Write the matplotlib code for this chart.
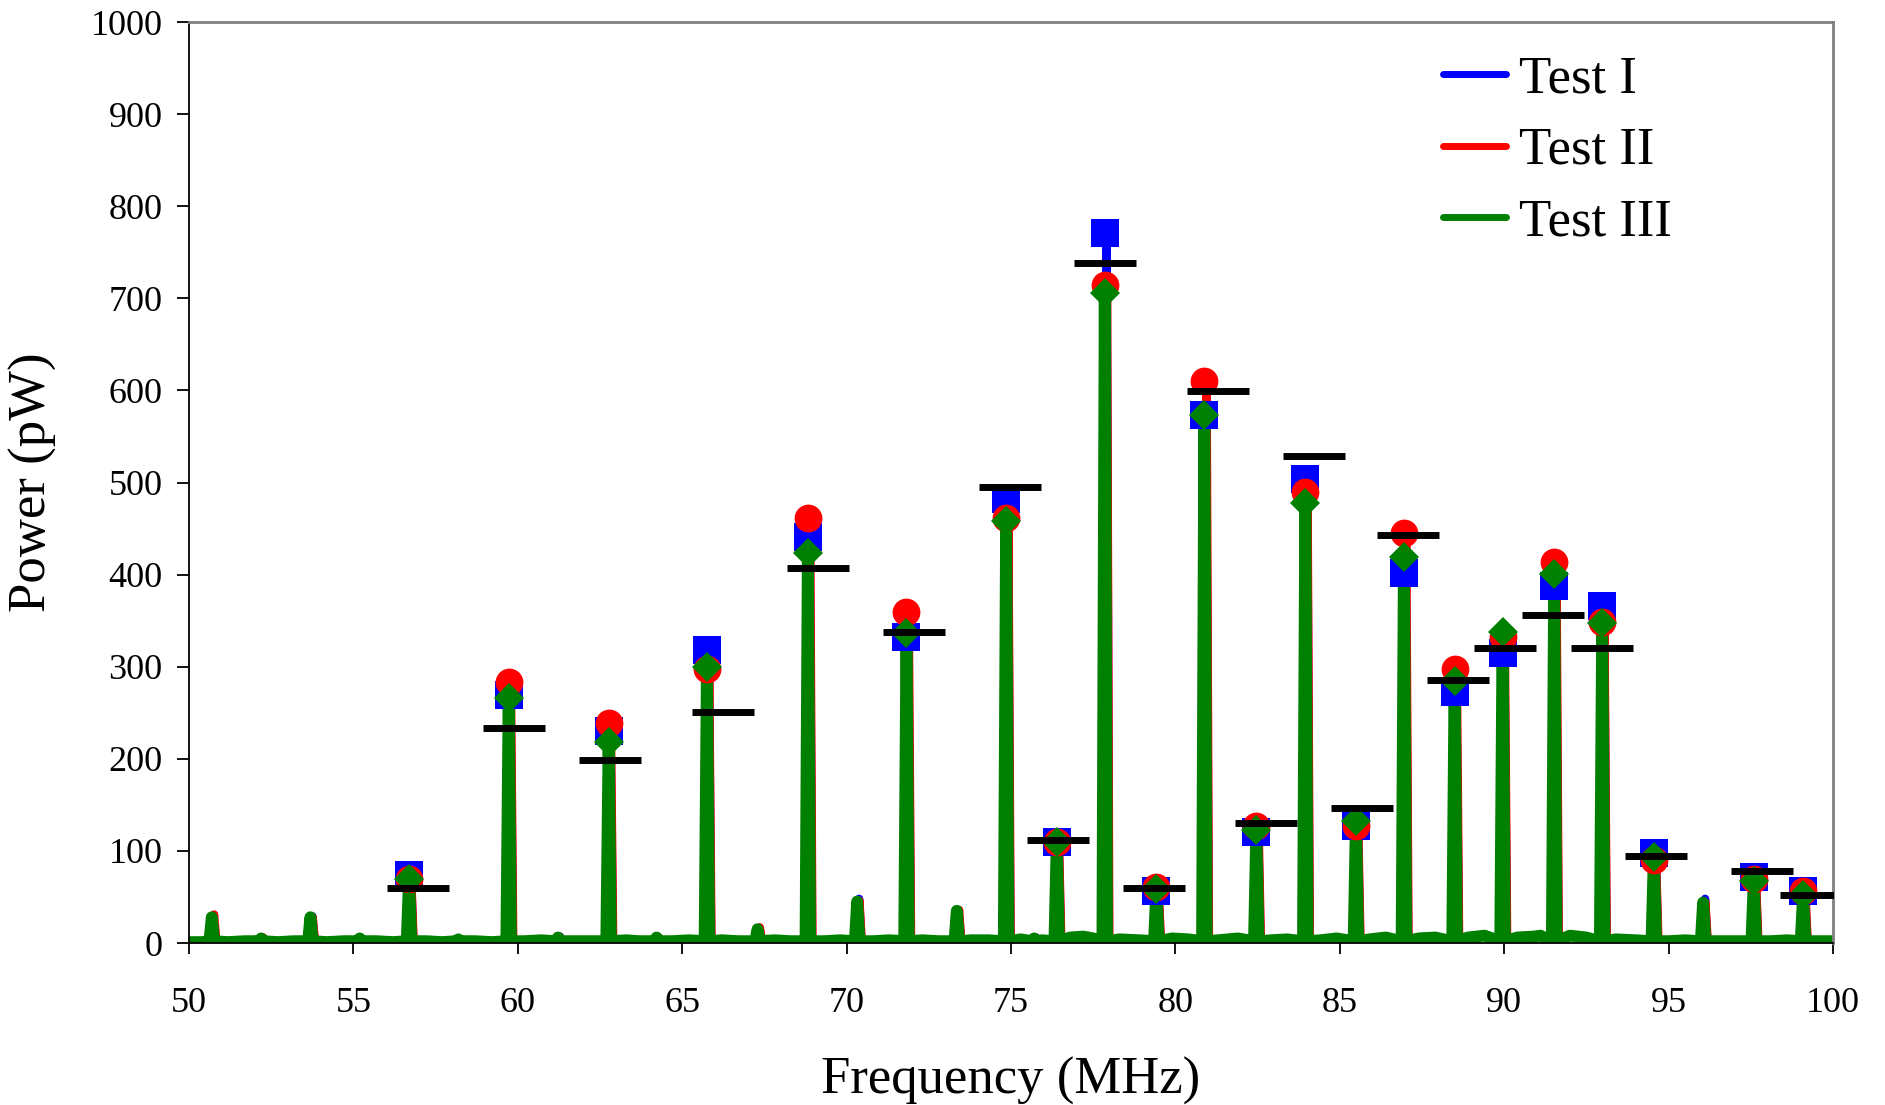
import matplotlib.pyplot as plt
from matplotlib.lines import Line2D

plt.rcParams['font.family'] = ['Liberation Serif', 'DejaVu Serif']

# main peaks: frequency (MHz) and measured power (pW) for each test
peak_freq = [56.69, 59.72, 62.76, 65.75, 68.82, 71.82, 74.85, 76.39, 77.85, 79.42, 80.88,
             82.46, 83.95, 85.49, 86.95, 88.49, 89.95, 91.52, 92.98, 94.55, 97.59, 99.09]
test1_peak = [74, 269, 230, 318, 441, 332, 482, 110, 771, 57, 573,
              120, 504, 127, 402, 273, 315, 388, 366, 98, 72, 56]
test2_peak = [69, 283, 239, 298, 462, 359, 461, 110, 715, 61, 610,
              127, 490, 127, 445, 298, 332, 414, 349, 90, 69, 56]
test3_peak = [70, 266, 218, 300, 424, 337, 458, 110, 706, 59, 573,
              123, 478, 133, 419, 285, 338, 401, 347, 93, 67, 52]

# black bars (expected power)
theory_freq = [56.96, 59.89, 62.81, 66.23, 69.12, 72.04, 74.96, 76.42, 77.87, 79.35, 81.29,
               82.76, 84.23, 85.69, 87.06, 88.61, 90.02, 91.48, 92.98, 94.61, 97.84, 99.32]
theory_power = [60, 234, 199, 251, 407, 338, 495, 112, 738, 60, 599,
                130, 529, 147, 443, 286, 320, 356, 320, 94, 78, 52]

# small spurs without markers
spur_freq = [50.69, 52.19, 53.69, 55.19, 58.19, 61.22, 64.22, 67.29, 70.32, 73.35, 75.70, 96.05]
spur_test1 = [28, 5, 29, 5, 4, 7, 6, 16, 48, 35, 6, 48]
spur_test2 = [31, 6, 28, 5, 4, 6, 6, 17, 46, 36, 5, 44]
spur_test3 = [28, 5, 28, 5, 4, 6, 6, 15, 45, 35, 5, 44]

# noise floor between the peaks
floor_freq = [50.0, 50.4, 51.2, 51.7, 52.7, 53.2, 54.2, 54.7, 55.7, 56.2, 57.2, 57.7, 58.7,
              59.2, 60.2, 60.7, 61.7, 62.2, 63.3, 63.7, 64.7, 65.2, 66.2, 66.7, 67.8, 68.3,
              69.3, 69.8, 70.8, 71.3, 72.3, 72.8, 73.8, 74.3, 75.3, 75.95, 76.8, 77.2, 77.5,
              78.3, 78.9, 79.9, 80.4, 81.3, 81.9, 82.9, 83.4, 84.4, 84.9, 85.9, 86.4, 87.4,
              87.9, 88.9, 89.4, 90.4, 90.9, 91.1, 92.0, 92.5, 93.4, 94.0, 95.0, 95.5, 96.5,
              97.0, 98.1, 98.6, 99.5, 100.0]
floor_power = [1, 1, 1, 2, 1, 2, 1, 2, 2, 1, 2, 1, 2,
               1, 2, 3, 2, 2, 3, 2, 2, 3, 3, 2, 3, 2,
               2, 3, 2, 3, 3, 2, 3, 3, 4, 3, 6, 7, 5,
               4, 3, 5, 4, 3, 5, 3, 4, 3, 5, 4, 6, 5,
               6, 6, 8, 6, 7, 8, 8, 6, 4, 3, 2, 3, 2,
               2, 2, 3, 2, 2]


def build_trace(peaks, spurs, shift):
    pts = list(zip(floor_freq, floor_power))
    for f, p in list(zip(peak_freq, peaks)) + list(zip(spur_freq, spurs)):
        pts += [(f - 0.07 + shift, 2), (f + shift, p), (f + 0.07 + shift, 2)]
    pts.sort()
    return [x for x, _ in pts], [y for _, y in pts]


fig = plt.figure(figsize=(18.85, 11.05), dpi=100)
ax = fig.add_axes([0.1003, 0.1466, 0.8721, 0.8334])

x1, y1 = build_trace(test1_peak, spur_test1, 0.06)
x2, y2 = build_trace(test2_peak, spur_test2, 0.07)
x3, y3 = build_trace(test3_peak, spur_test3, 0.0)
ax.plot(x1, y1, color='#0000FF', lw=6, zorder=2)
ax.plot(x2, y2, color='#FF0000', lw=6, zorder=2.1)
ax.plot(x3, y3, color='#008000', lw=8.5, zorder=2.2)

ax.plot(peak_freq, test1_peak, 's', color='#0000FF', ms=20, mew=0, zorder=3)
ax.plot(peak_freq, test2_peak, 'o', color='#FF0000', ms=20, mew=0, zorder=3.1)
ax.plot(peak_freq, test3_peak, 'D', color='#008000', ms=15, mew=0, zorder=3.2)
ax.plot(theory_freq, theory_power, '_', color='black', ms=45, mew=5, zorder=4)

ax.set_xlim(50, 100)
ax.set_ylim(0, 1000)
ax.set_xticks(range(50, 101, 5))
ax.set_yticks(range(0, 1001, 100))
ax.tick_params(axis='both', labelsize=26, direction='out', width=1.3, color='black')
ax.tick_params(axis='x', length=8, pad=24)
ax.tick_params(axis='y', length=9, pad=10)

for side in ['top', 'right']:
    ax.spines[side].set_color('#808080')
    ax.spines[side].set_linewidth(2)
ax.spines['left'].set_linewidth(1.3)
ax.spines['bottom'].set_linewidth(1.3)

ax.set_xlabel('Frequency (MHz)', fontsize=38)
ax.set_ylabel('Power (pW)', fontsize=38, va='center')
ax.xaxis.set_label_coords(0.5, -0.124)
ax.yaxis.set_label_coords(-0.095, 0.5)

handles = [Line2D([], [], color='#0000FF', lw=5, solid_capstyle='round'),
           Line2D([], [], color='#FF0000', lw=5, solid_capstyle='round'),
           Line2D([], [], color='#008000', lw=5, solid_capstyle='round')]
ax.legend(handles, ['Test I', 'Test II', 'Test III'], loc='upper left',
          bbox_to_anchor=(0.7655, 0.950), bbox_transform=fig.transFigure,
          frameon=False, fontsize=38, handlelength=1.2, handletextpad=0.25,
          labelspacing=0.45, borderpad=0, borderaxespad=0)

fig.savefig('out.png', dpi=100)
